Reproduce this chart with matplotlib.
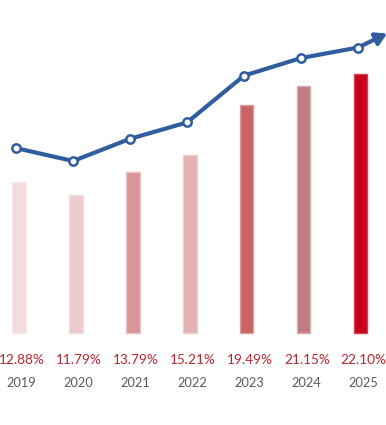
import matplotlib
matplotlib.use("Agg")
import matplotlib.pyplot as plt
import numpy as np

# data
years = ["2019", "2020", "2021", "2022", "2023", "2024", "2025"]
rates = [12.88, 11.79, 13.79, 15.21, 19.49, 21.15, 22.10]
trend = [15.8, 14.7, 16.6, 18.0, 22.0, 23.5, 24.4]   # blue trend line, same scale as bars
arrow_end = (6.46, 25.6)                               # where the arrow head points

bar_colors = ["#f4dcdd", "#edc9cb", "#d99597", "#e4b2b3",
              "#c96466", "#c07e81", "#c6001b"]
edge_colors = ["#f8e9ea", "#f4dfe0", "#e9c3c4", "#efd0d1",
               "#dc9c9d", "#d6abad", "#d84050"]
line_blue = "#2f5d9f"
label_red = "#b8252e"
year_grey = "#5a5a5a"

plt.rcParams['font.family'] = ['Lato', 'DejaVu Sans']

fig = plt.figure(figsize=(3.86, 4.25), dpi=100)
ax = fig.add_axes([0, 0, 1, 1])

x = np.arange(len(years))
ax.bar(x, rates, width=0.23, color=bar_colors, edgecolor=edge_colors, linewidth=1.0, zorder=2)

# trend line sits a touch left of the bar centres
lx = x - 0.05
ax.plot(lx, trend, color=line_blue, lw=3.0, solid_capstyle="round", zorder=3)
ax.annotate("", xy=arrow_end, xytext=(lx[-1], trend[-1]), annotation_clip=False,
            arrowprops=dict(arrowstyle="-|>,head_length=0.65,head_width=0.38",
                            color=line_blue, lw=3.0, shrinkA=0, shrinkB=0),
            zorder=3)
ax.plot(lx, trend, "o", ms=6, mfc="white", mec=line_blue, mew=1.8, zorder=4)

for i, (yr, r) in enumerate(zip(years, rates)):
    ax.text(i + 0.05, 0.154, f"{r:.2f}%", transform=ax.get_xaxis_transform(),
            ha="center", va="center", fontsize=9.8, color=label_red)
    ax.text(i + 0.04, 0.099, yr, transform=ax.get_xaxis_transform(),
            ha="center", va="center", fontsize=9.2, color=year_grey)

ax.set_xlim(-0.333, 6.44)
ax.set_ylim(-7.86, 28.46)
ax.axis("off")

fig.savefig("out.png", dpi=100)
